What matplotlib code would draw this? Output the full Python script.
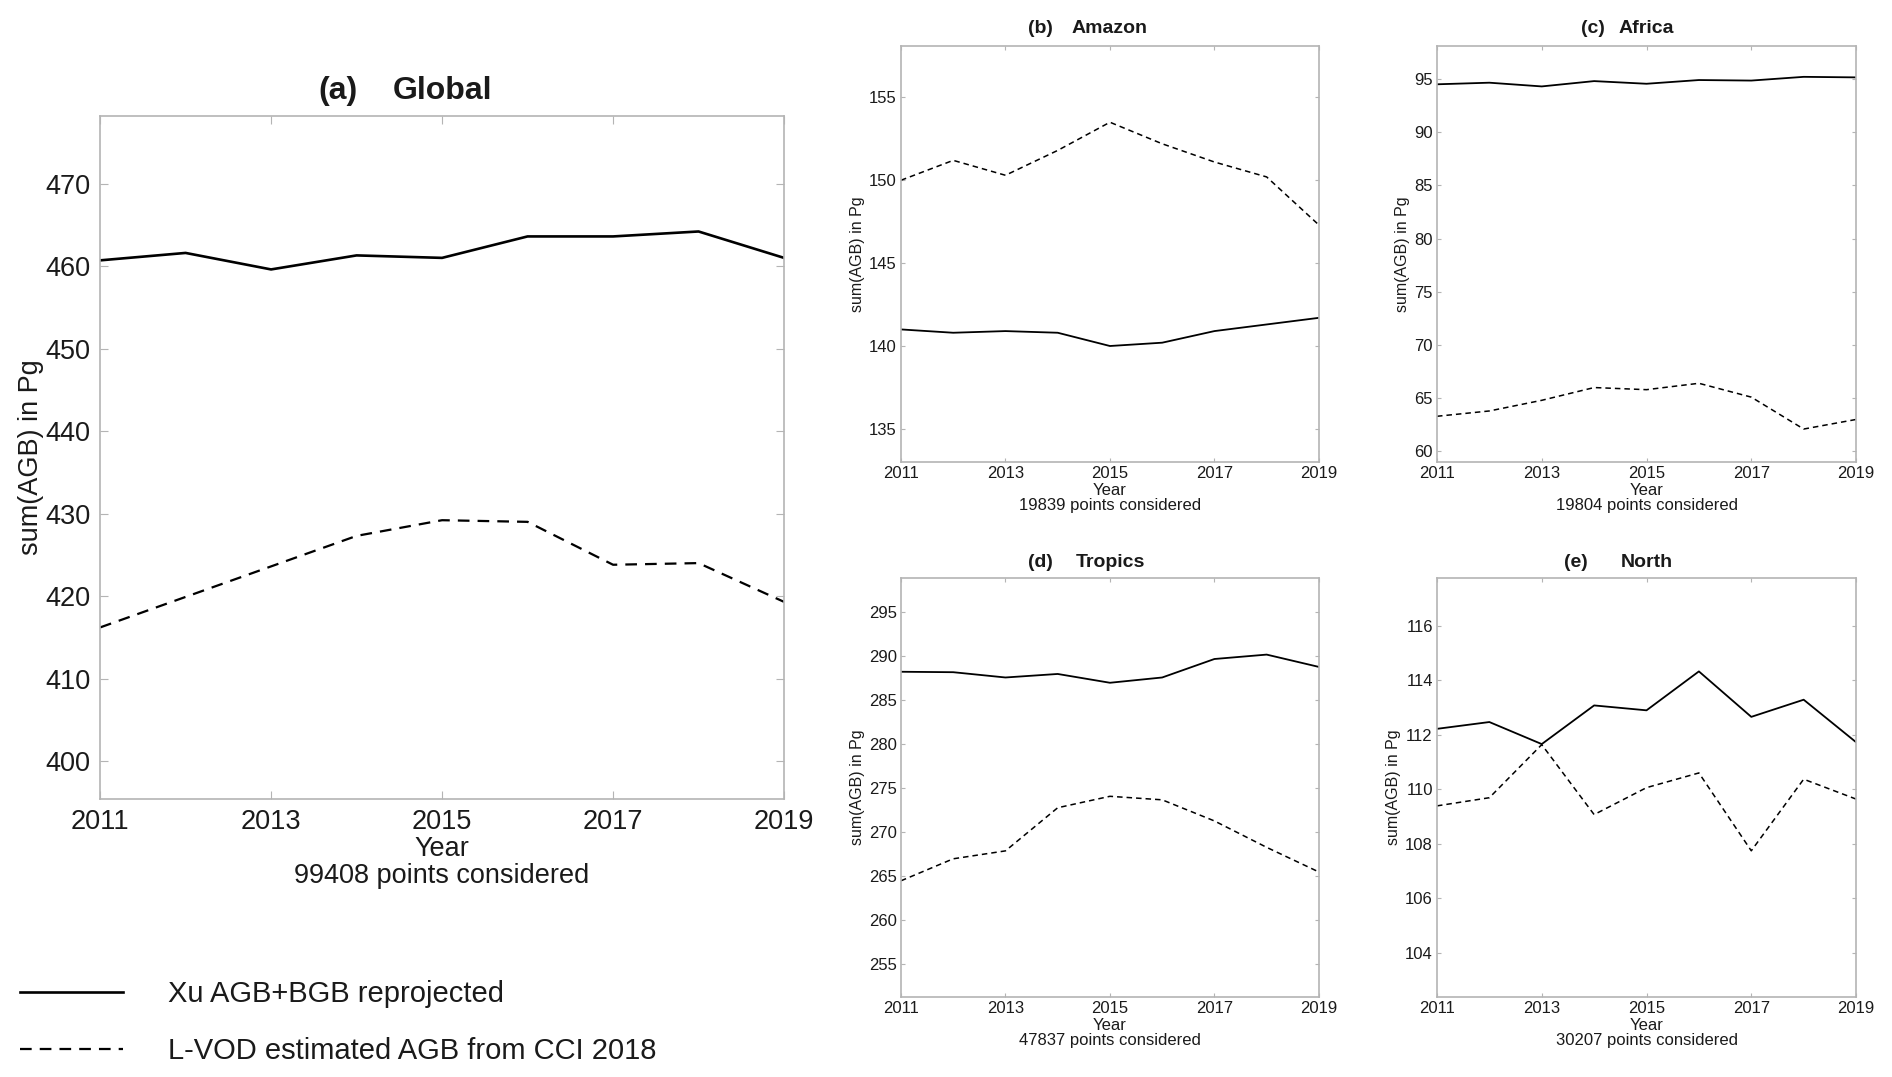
import numpy as np
import matplotlib.pyplot as plt

plt.rcParams['font.family'] = ['Liberation Sans', 'DejaVu Sans']

# data
years = [2011, 2012, 2013, 2014, 2015, 2016, 2017, 2018, 2019]
year_ticks = [2011, 2013, 2015, 2017, 2019]

global_xu = [460.7, 461.6, 459.6, 461.3, 461.0, 463.6, 463.6, 464.2, 461.0]
global_vod = [416.2, 419.9, 423.6, 427.3, 429.2, 429.0, 423.8, 424.0, 419.3]

amazon_xu = [141.0, 140.8, 140.9, 140.8, 140.0, 140.2, 140.9, 141.3, 141.7]
amazon_vod = [150.0, 151.2, 150.3, 151.8, 153.5, 152.2, 151.1, 150.2, 147.3]

africa_xu = [94.5, 94.65, 94.3, 94.8, 94.55, 94.9, 94.85, 95.2, 95.15]
africa_vod = [63.3, 63.8, 64.8, 66.0, 65.8, 66.4, 65.1, 62.1, 63.0]

tropics_xu = [288.25, 288.2, 287.6, 288.0, 287.0, 287.6, 289.7, 290.2, 288.8]
tropics_vod = [264.5, 267.0, 267.9, 272.8, 274.1, 273.7, 271.3, 268.3, 265.5]

north_xu = [112.22, 112.47, 111.66, 113.08, 112.9, 114.33, 112.66, 113.29, 111.73]
north_vod = [109.39, 109.69, 111.64, 109.07, 110.06, 110.6, 107.74, 110.37, 109.64]

panels = [
    # letter, name, xu, vod, n points, ylim, yticks
    ('(a)', 'Global', global_xu, global_vod, 99408, (395.4, 478.2), np.arange(400, 471, 10)),
    ('(b)', 'Amazon', amazon_xu, amazon_vod, 19839, (133.0, 158.1), np.arange(135, 156, 5)),
    ('(c)', 'Africa', africa_xu, africa_vod, 19804, (59.0, 98.1), np.arange(60, 96, 5)),
    ('(d)', 'Tropics', tropics_xu, tropics_vod, 47837, (251.3, 298.9), np.arange(255, 296, 5)),
    ('(e)', 'North', north_xu, north_vod, 30207, (102.37, 117.76), np.arange(104, 117, 2)),
]

fig = plt.figure(figsize=(18.92, 10.77), dpi=100)

# axes rectangles [left, bottom, width, height]
rects = [
    [0.0529, 0.2581, 0.3615, 0.6342],
    [0.4762, 0.5710, 0.2209, 0.3863],
    [0.7595, 0.5710, 0.2215, 0.3863],
    [0.4762, 0.0743, 0.2209, 0.3890],
    [0.7595, 0.0743, 0.2215, 0.3890],
]
letter_x = [0.348, 0.333, 0.372, 0.333, 0.332]
title_y = [1.037, 1.041, 1.041, 1.038, 1.038]

spine_col = '#b4b4b4'
txt_col = '#1a1a1a'

handles = None
for i, (letter, name, xu, vod, npts, ylim, yt) in enumerate(panels):
    ax = fig.add_axes(rects[i])
    big = (i == 0)
    lw = 1.9 if big else 1.3
    dash = (5.2, 3.6) if big else (3.6, 2.6)
    fs_tick = 19.5 if big else 12
    fs_title = 23 if big else 14
    fs_ylab = 19.5 if big else 11.5

    l1, = ax.plot(years, xu, color='black', lw=lw, label='Xu AGB+BGB reprojected')
    l2, = ax.plot(years, vod, color='black', lw=lw * 0.85, dashes=dash,
                  label='L-VOD estimated AGB from CCI 2018')
    if big:
        handles = [l1, l2]

    ax.set_xlim(2011, 2019)
    ax.set_ylim(*ylim)
    ax.set_xticks(year_ticks)
    ax.set_yticks(yt)
    ax.tick_params(direction='in', top=True, right=True, color=spine_col,
                   length=6 if big else 3, width=0.8,
                   labelsize=fs_tick, labelcolor=txt_col, pad=7 if big else 3)
    for s in ax.spines.values():
        s.set_color(spine_col)
        s.set_linewidth(1.2)

    ax.set_xlabel('Year\n%d points considered' % npts, fontsize=fs_tick,
                  color=txt_col, linespacing=1.05, labelpad=1)
    ax.set_ylabel('sum(AGB) in Pg', fontsize=fs_ylab, color=txt_col,
                  labelpad=1 if big else 3)

    ax.text(0.5, title_y[i], name, transform=ax.transAxes, ha='center',
            va='center', fontsize=fs_title, fontweight='bold', color=txt_col)
    ax.text(letter_x[i], title_y[i], letter, transform=ax.transAxes, ha='center',
            va='center', fontsize=fs_title, fontweight='bold', color=txt_col)

leg = fig.legend(handles=handles, loc='center left', bbox_to_anchor=(0.0108, 0.0505),
                 frameon=False, fontsize=21, handlelength=3.5, handletextpad=1.55,
                 labelspacing=1.0, borderpad=0, borderaxespad=0)
for t in leg.get_texts():
    t.set_color(txt_col)

fig.savefig('out.png', dpi=100)
